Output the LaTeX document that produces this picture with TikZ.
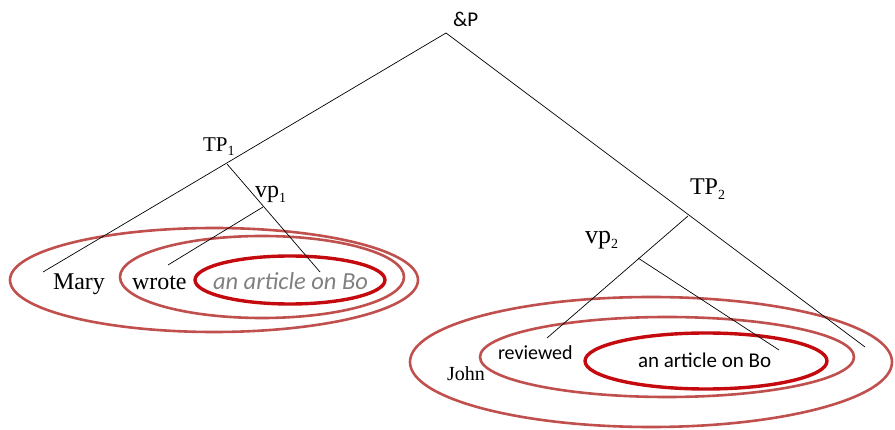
\documentclass[tikz,border=0pt]{standalone}
\usepackage{fontspec}
\setmainfont{Liberation Serif}
\newfontfamily\calfnt{Carlito}
\newcommand{\mysub}[1]{\raisebox{-0.4ex}{\fontsize{14}{14}\selectfont #1}}
\tikzset{
  branch/.style={draw=black, line width=0.7pt},
  soft/.style={draw=softred, line width=2.6pt},
  hard/.style={draw=hardred, line width=3.4pt},
  lab/.style={anchor=base west, inner sep=0pt, outer sep=0pt},
  tm/.style={lab, font=\fontsize{24}{24}\selectfont},
}
\definecolor{softred}{RGB}{192,80,77}
\definecolor{hardred}{RGB}{196,10,14}
\definecolor{grytxt}{RGB}{128,128,128}
\begin{document}
\begin{tikzpicture}[x=1pt,y=-1pt]
\useasboundingbox (0,0) rectangle (895,430);
% ellipses left
\draw[soft] (214,280) ellipse [x radius=204, y radius=52];
\draw[soft] (262,277) ellipse [x radius=142, y radius=41];
\draw[hard] (290,280) ellipse [x radius=95, y radius=24];
% ellipses right
\draw[soft] (651,362) ellipse [x radius=241, y radius=65];
\draw[soft] (667,357) ellipse [x radius=187, y radius=40];
\draw[hard] (706,361) ellipse [x radius=121, y radius=28];
% tree points
\coordinate (top) at (446,33);
\coordinate (tp1) at (227,164);
\coordinate (maryend) at (43,272);
\coordinate (vp1) at (263,207);
\coordinate (wroteend) at (168,265);
\coordinate (art1end) at (320,272);
\coordinate (tp2) at (688,216);
\coordinate (johnend) at (865,347);
\coordinate (vp2) at (638,258);
\coordinate (revend) at (547,338);
\coordinate (art2end) at (779,350);
\draw[branch] (maryend) -- (top) -- (johnend);
\draw[branch] (tp1) -- (art1end);
\draw[branch] (vp1) -- (wroteend);
\draw[branch] (tp2) -- (revend);
\draw[branch] (vp2) -- (art2end);
% labels
\node[lab, font=\calfnt\fontsize{21}{21}\selectfont] (andp) at (453,27) {\&P};
\node[lab, font=\fontsize{21}{21}\selectfont] (TP1) at (203,152) {TP\mysub{1}};
\node[tm] (VP1) at (255,198) {vp\mysub{1}};
\node[tm] (mary) at (53,290) {Mary};
\node[tm] (wrote) at (132,290) {wrote};
\node[lab, font=\calfnt\itshape\fontsize{24.5}{24.5}\selectfont, text=grytxt] (art1) at (213,290) {an article on Bo};
\node[tm] (TP2) at (690,195) {TP\mysub{2}};
\node[lab, font=\fontsize{26}{26}\selectfont] (VP2) at (585,244) {vp\mysub{2}};
\node[lab, font=\calfnt\fontsize{20}{20}\selectfont] (rev) at (498,360) {reviewed};
\node[lab, font=\calfnt\fontsize{21}{21}\selectfont] (art2) at (638,368) {an article on Bo};
\node[lab, font=\fontsize{20}{20}\selectfont] (john) at (447,381) {John};
\end{tikzpicture}
\end{document}
